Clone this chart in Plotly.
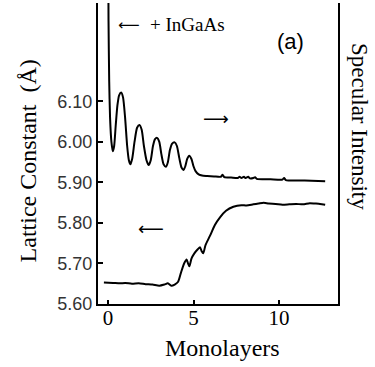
import plotly.graph_objects as go

# Specular intensity (plotted on right axis, arbitrary units aligned to left scale)
spec_x = [0.0, 0.03, 0.07, 0.12, 0.2, 0.28, 0.36, 0.45, 0.55, 0.65, 0.77, 0.88, 1.0, 1.12, 1.22, 1.31,
          1.42, 1.55, 1.7, 1.84, 1.97, 2.1, 2.25, 2.38, 2.5, 2.63, 2.75, 2.87, 3.0, 3.12, 3.25, 3.39,
          3.5, 3.62, 3.75, 3.9, 4.03, 4.17, 4.3, 4.42, 4.52, 4.63, 4.75, 4.88, 5.0, 5.12, 5.3, 5.5,
          5.8, 6.2, 6.6, 6.7, 6.8, 7.2, 7.6, 7.7, 7.8, 7.95, 8.05, 8.2, 8.3, 8.5, 8.6, 8.7, 9.5,
          10.2, 10.3, 10.4, 11.5, 12.7]
spec_y = [6.60, 6.30, 6.15, 6.06, 6.00, 5.977, 5.99, 6.04, 6.09, 6.115, 6.122, 6.11, 6.06, 5.99, 5.955, 5.945,
          5.96, 6.00, 6.035, 6.042, 6.03, 5.99, 5.955, 5.943, 5.955, 5.99, 6.007, 6.01, 6.00, 5.97, 5.945, 5.939,
          5.95, 5.98, 5.996, 5.999, 5.99, 5.96, 5.937, 5.931, 5.94, 5.958, 5.966, 5.958, 5.94, 5.928, 5.92, 5.917,
          5.916, 5.915, 5.914, 5.919, 5.913, 5.912, 5.911, 5.914, 5.911, 5.914, 5.911, 5.914, 5.910, 5.911, 5.913, 5.909, 5.908,
          5.907, 5.911, 5.906, 5.905, 5.903]

# Lattice constant (Å)
lat_x = [-0.24, 0.3, 0.7, 1.0, 1.4, 1.8, 2.2, 2.6, 3.0, 3.3, 3.5, 3.7, 3.9, 4.1, 4.25, 4.45, 4.6, 4.68,
         4.76, 4.88, 5.05, 5.25, 5.38, 5.48, 5.57, 5.7, 5.96, 6.25, 6.55, 6.9, 7.33, 7.8, 8.1, 8.5, 8.8,
         9.1, 9.4, 9.8, 10.2, 10.6, 11.0, 11.4, 11.8, 12.1, 12.4, 12.7]
lat_y = [5.653, 5.652, 5.651, 5.652, 5.650, 5.651, 5.649, 5.648, 5.645, 5.648, 5.651, 5.645, 5.648, 5.655,
         5.675, 5.700, 5.710, 5.700, 5.693, 5.712, 5.725, 5.735, 5.740, 5.730, 5.725, 5.745, 5.768, 5.795,
         5.814, 5.830, 5.840, 5.844, 5.843, 5.846, 5.848, 5.850, 5.848, 5.847, 5.845, 5.846, 5.847, 5.846,
         5.849, 5.848, 5.847, 5.845]

y_ticks = [5.60, 5.70, 5.80, 5.90, 6.00, 6.10]
y_ticklabels = ["5.60", "5.70", "5.80", "5.90", "6.00", "6.10"]
x_ticks = [0, 5, 10]

yr = [5.60, 6.343]
xr = [-0.585, 13.45]

fig = go.Figure()
fig.add_trace(go.Scatter(x=lat_x, y=lat_y, mode="lines", line=dict(color="black", width=2, shape="spline", smoothing=0.6),
                         showlegend=False, hoverinfo="skip"))
fig.add_trace(go.Scatter(x=spec_x, y=spec_y, mode="lines", yaxis="y2",
                         line=dict(color="black", width=2, shape="spline", smoothing=0.6),
                         showlegend=False, hoverinfo="skip"))

fig.update_layout(
    width=375, height=367,
    margin=dict(l=98, r=37, t=3, b=63),
    paper_bgcolor="white", plot_bgcolor="white",
    xaxis=dict(range=xr, showgrid=False, zeroline=False, showline=True, linecolor="black", linewidth=2,
               tickmode="array", tickvals=x_ticks, ticks="inside", ticklen=4, tickwidth=2, tickcolor="black",
               ticklabelstandoff=-6,
               tickfont=dict(family="Liberation Serif", size=21, color="black")),
    yaxis=dict(range=yr, showgrid=False, zeroline=False, showline=True, linecolor="black", linewidth=2,
               tickmode="array", tickvals=y_ticks, ticktext=y_ticklabels, ticks="inside", ticklen=5,
               tickwidth=2, tickcolor="black",
               tickfont=dict(family="Liberation Sans", size=18, color="#333")),
    yaxis2=dict(range=yr, overlaying="y", side="right", showgrid=False, zeroline=False, showline=True,
                linecolor="black", linewidth=2, showticklabels=False, ticks=""),
)

ann = [
    dict(text="⟵", x=0.13, y=0.927, font=dict(family="DejaVu Sans", size=15)),
    dict(text="+ InGaAs", x=0.208, y=0.927, xanchor="left", font=dict(family="Liberation Serif", size=19)),
    dict(text="(a)", x=0.80, y=0.872, font=dict(family="Liberation Sans", size=22)),
    dict(text="⟶", x=0.49, y=0.615, font=dict(family="DejaVu Sans", size=18)),
    dict(text="⟵", x=0.22, y=0.252, font=dict(family="DejaVu Sans", size=18)),
    dict(text="Lattice Constant  (Å)", x=-0.29, y=0.475, textangle=-90,
         font=dict(family="Liberation Serif", size=24)),
    dict(text="Monolayers", x=0.52, y=-0.146, font=dict(family="Liberation Serif", size=24)),
    dict(text="Specular Intensity", x=1.092, y=0.591, textangle=90,
         font=dict(family="Liberation Serif", size=23)),
]
for a in ann:
    a.setdefault("xanchor", "center")
    a["font"]["color"] = "black"
    fig.add_annotation(xref="paper", yref="paper", showarrow=False, yanchor="middle", **a)

fig.write_html("out.html", config={"displayModeBar": False},
               post_script="document.body.style.margin='0px';")
